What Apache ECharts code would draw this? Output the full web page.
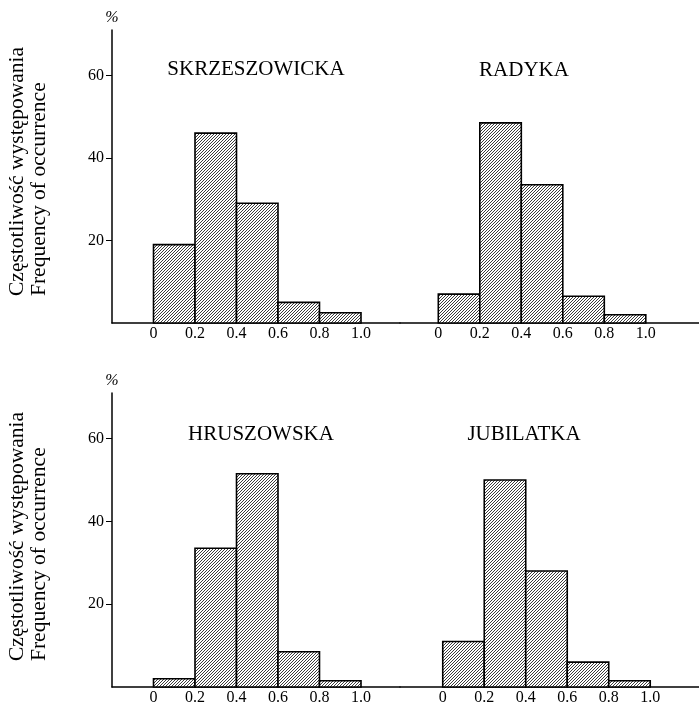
<!DOCTYPE html>
<html>
<head>
<meta charset="utf-8">
<script src="https://cdn.jsdelivr.net/npm/echarts@6/dist/echarts.min.js"></script>
<style>
html,body{margin:0;padding:0;background:#fff;}
#chart{width:699px;height:706px;}
</style>
</head>
<body>
<div id="chart"></div>
<script>
// ---- data ----
const binEdges = [0, 0.2, 0.4, 0.6, 0.8, 1.0];
const xTickLabels = [0, 0.2, 0.4, 0.6, 0.8, 1.0];
const yTickLabels = [20, 40, 60];
const titles = ['SKRZESZOWICKA', 'RADYKA', 'HRUSZOWSKA', 'JUBILATKA'];
const skrzeszowicka = [19, 46, 29, 5, 2.5];
const radyka = [7, 48.5, 33.5, 6.5, 2];
const hruszowska = [2, 33.5, 51.5, 8.5, 1.5];
const jubilatka = [11, 50, 28, 6, 1.5];
const yAxisTitle = 'Częstotliwość występowania\nFrequency of occurrence';
const unitLabel = '%';

// ---- hatch pattern ("/" diagonal, pixel exact) ----
const T = 3;
const pc = document.createElement('canvas');
pc.width = T; pc.height = T;
const ctx = pc.getContext('2d');
ctx.fillStyle = '#fff';
ctx.fillRect(0, 0, T, T);
ctx.fillStyle = '#3c3c3c';
for (let k = 0; k < T; k++) ctx.fillRect(k, T - 1 - k, 1, 1);
const hatch = { image: pc, repeat: 'repeat' };

const FONT = '"Liberation Serif", "Times New Roman", serif';

function histData(vals) {
  return vals.map((v, i) => [binEdges[i], binEdges[i + 1], v]);
}

const panels = [
  { vals: skrzeszowicka, left: 112, width: 288, top: 30, height: 293, xmin: -0.2, showY: true },
  { vals: radyka, left: 400, width: 299, top: 30, height: 293, xmin: -0.1846, showY: false },
  { vals: hruszowska, left: 112, width: 288, top: 393, height: 294, xmin: -0.2, showY: true },
  { vals: jubilatka, left: 400, width: 299, top: 393, height: 294, xmin: -0.206, showY: false }
];
const PX_PER_UNIT = 207.5;

const grids = [], xAxes = [], yAxes = [], series = [];
panels.forEach((p, i) => {
  grids.push({ left: p.left, top: p.top, width: p.width, height: p.height, containLabel: false });
  xAxes.push({
    type: 'value', gridIndex: i,
    min: p.xmin, max: p.xmin + p.width / PX_PER_UNIT,
    axisLine: { show: true, onZero: false, lineStyle: { color: '#000', width: 1.5 } },
    axisTick: { show: false },
    splitLine: { show: false },
    axisLabel: {
      customValues: xTickLabels,
      formatter: v => (Math.abs(v) < 1e-9 ? '0' : (Math.round(v * 10) / 10).toFixed(1)),
      color: '#000', fontFamily: FONT, fontSize: 16, margin: 3
    }
  });
  yAxes.push({
    type: 'value', gridIndex: i, min: 0, max: 71,
    show: p.showY,
    name: p.showY ? unitLabel : '',
    nameLocation: 'end', nameGap: 4,
    nameTextStyle: { fontFamily: FONT, fontSize: 16, fontStyle: 'italic', color: '#000' },
    axisLine: { show: true, onZero: false, lineStyle: { color: '#000', width: 1.5 } },
    axisTick: { show: true, inside: false, length: 6, customValues: yTickLabels, lineStyle: { color: '#000', width: 1 } },
    splitLine: { show: false },
    axisLabel: { customValues: yTickLabels, color: '#000', fontFamily: FONT, fontSize: 16, margin: 8 }
  });
  series.push({
    type: 'custom', xAxisIndex: i, yAxisIndex: i,
    data: histData(p.vals),
    encode: { x: [0, 1], y: 2 },
    renderItem: function (params, api) {
      const a = api.coord([api.value(0), api.value(2)]);
      const b = api.coord([api.value(1), 0]);
      return {
        type: 'rect',
        shape: { x: a[0], y: a[1], width: b[0] - a[0], height: b[1] - a[1] },
        style: { fill: hatch, stroke: '#000', lineWidth: 1.6 }
      };
    }
  });
});

const titlePos = [[256, 69], [524, 70], [261, 434], [524, 434]];
const graphics = titles.map((t, i) => ({
  type: 'text', x: titlePos[i][0], y: titlePos[i][1],
  style: { text: t, fontFamily: FONT, fontSize: 21, fill: '#000', textAlign: 'center', textVerticalAlign: 'middle' }
}));
[[6, 296], [6, 661]].forEach(pos => {
  graphics.push({
    type: 'text', x: pos[0], y: pos[1], rotation: Math.PI / 2,
    style: { text: yAxisTitle, fontFamily: FONT, fontSize: 21.5, lineHeight: 22, fill: '#000', textAlign: 'left', textVerticalAlign: 'top' }
  });
});

const chart = echarts.init(document.getElementById('chart'), null, { renderer: 'canvas' });
chart.setOption({
  animation: false,
  backgroundColor: '#fff',
  grid: grids, xAxis: xAxes, yAxis: yAxes, series: series,
  graphic: graphics
});
</script>
</body>
</html>
